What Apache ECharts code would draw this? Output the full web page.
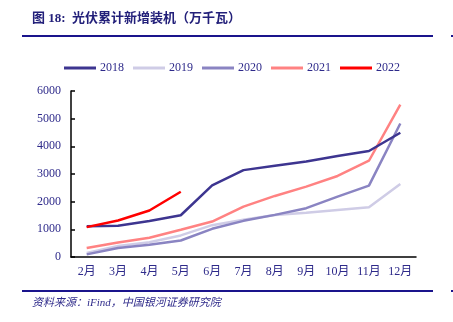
<!DOCTYPE html>
<html><head><meta charset="utf-8">
<script src="https://cdn.jsdelivr.net/npm/echarts@6/dist/echarts.min.js"></script>
<style>html,body{margin:0;padding:0;background:#fff}#c{width:453px;height:322px}</style>
</head><body><div id="c"></div>
<script>
const categories = ['2月','3月','4月','5月','6月','7月','8月','9月','10月','11月','12月'];
const yTicks = [0,1000,2000,3000,4000,5000,6000];
const s2018 = [1110,1130,1300,1510,2590,3140,3300,3450,3650,3830,4490];
const s2019 = [150,400,530,780,1150,1350,1520,1600,1700,1800,2640];
const s2020 = [94,324,443,598,1019,1307,1523,1764,2182,2578,4825];
const s2021 = [324,526,695,983,1282,1822,2207,2543,2928,3479,5510];
const s2022 = [1080,1320,1680,2360];
const seriesNames = ['2018','2019','2020','2021','2022'];
const colors = ['#3d3590','#cfcce6','#8a84c2','#ff8282','#ff0000'];
const seriesData = [s2018,s2019,s2020,s2021,s2022];
const navy = '#2e2a8a';
const serif = '"Liberation Serif","Noto Sans CJK SC",serif';
const chart = echarts.init(document.getElementById('c'), null, {renderer:'canvas'});
chart.setOption({
  animation:false,
  color: colors,
  grid:{left:71,right:37,top:91,bottom:65,containLabel:false},
  legend:{left:59,top:57,itemWidth:32,itemHeight:10,itemGap:9,
    icon:'path://M0,3.5 L32,3.5 L32,6.5 L0,6.5 Z',
    textStyle:{fontFamily:serif,fontSize:12,color:navy,padding:[0,0,0,-1]},
    data:seriesNames},
  xAxis:{type:'category',data:categories,boundaryGap:true,
    axisLine:{lineStyle:{color:'#000',width:1.5}},
    axisTick:{inside:true,length:4,lineStyle:{color:'#000',width:1.5}},
    axisLabel:{fontFamily:serif,fontSize:12,color:navy,margin:9,interval:0}},
  yAxis:{type:'value',min:0,max:6000,interval:1000,
    splitLine:{show:false},
    axisLine:{show:true,lineStyle:{color:'#000',width:1.5}},
    axisTick:{show:true,inside:true,length:4,lineStyle:{color:'#000',width:1.5}},
    axisLabel:{fontFamily:serif,fontSize:12,color:navy,margin:10,formatter:v=>String(v)}},
  series: seriesNames.map((n,i)=>({name:n,type:'line',data:seriesData[i],symbol:'none',
    lineStyle:{width:2.5,color:colors[i]},z:i===1?1:(i===0||i===4?4:2)})),
  graphic:[
    {type:'text',left:32,top:12,style:{text:'图 18:  光伏累计新增装机（万千瓦）',font:'bold 13px "Liberation Serif","Noto Sans CJK SC",serif',fill:'#23207a'}},
    {type:'rect',shape:{x:22,y:35,width:411,height:2},style:{fill:'#1a148c'}},
    {type:'rect',shape:{x:451,y:35,width:2,height:2},style:{fill:'#1a148c'}},
    {type:'rect',shape:{x:22,y:290,width:411,height:2},style:{fill:'#1a148c'}},
    {type:'rect',shape:{x:451,y:290,width:2,height:2},style:{fill:'#1a148c'}},
    {type:'text',left:32,top:298,style:{text:'资料来源：iFind，中国银河证券研究院',font:'italic 11px "Liberation Serif","Noto Sans CJK SC",serif',fill:'#2e2a8a'}}
  ]
});
</script></body></html>
